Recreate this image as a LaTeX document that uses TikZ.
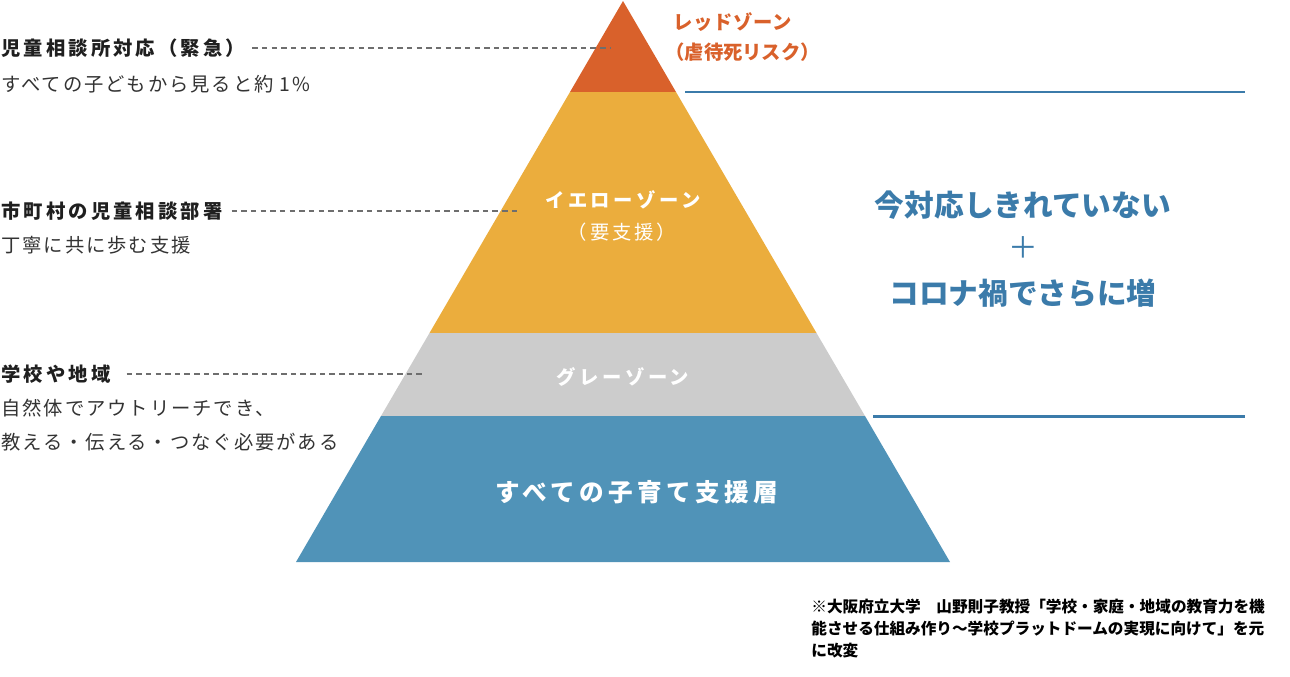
\documentclass[tikz,border=0pt]{standalone}
\usepackage{fontspec}
\setmainfont{Noto Sans CJK JP}
\usepackage{tikz}
\usetikzlibrary{positioning}

\definecolor{redzone}{HTML}{D9612B}
\definecolor{yellowzone}{HTML}{EBAD3D}
\definecolor{grayzone}{HTML}{CCCCCC}
\definecolor{bluezone}{HTML}{5093B8}
\definecolor{ruleblue}{HTML}{3B7BAA}
\definecolor{leadergray}{HTML}{6E6E6E}

\newcommand{\headfont}{\bfseries\fontsize{11}{13}\selectfont\addfontfeature{LetterSpace=16}}
\newcommand{\subfont}{\fontsize{11}{13}\selectfont\addfontfeature{LetterSpace=10}}
\newcommand{\zonefont}{\bfseries\fontsize{11}{13}\selectfont\addfontfeature{LetterSpace=18}}

\tikzset{
  lefthead/.style={anchor=west, inner sep=0pt, font=\headfont, text=black!88},
  leftsub/.style={anchor=west, inner sep=0pt, font=\subfont, text=black!80},
  zonelabel/.style={inner sep=0pt, font=\zonefont, text=white},
  redlabel/.style={anchor=west, inner sep=0pt, text=redzone, font=\bfseries\fontsize{11}{13}\selectfont\addfontfeature{LetterSpace=4}},
  bigblue/.style={inner sep=0pt, text=ruleblue, font=\bfseries\fontsize{16.9}{20}\selectfont},
  leader/.style={dash pattern=on 3.1pt off 2.4pt, leadergray, line width=0.7pt, shorten <=4pt},
  bluerule/.style={ruleblue, line width=1.7pt},
}

\begin{document}
\begin{tikzpicture}[x=0.02cm, y=-0.02cm]
\useasboundingbox (0,0) rectangle (1290,676);

% pyramid layers
\fill[redzone] (623,1) -- (676,92) -- (570,92) -- cycle;
\fill[yellowzone] (570,92) -- (676,92) -- (816.5,333) -- (429.5,333) -- cycle;
\fill[grayzone] (429.5,333) -- (816.5,333) -- (865,416) -- (381,416) -- cycle;
\fill[bluezone] (381,416) -- (865,416) -- (950,562) -- (296,562) -- cycle;

% labels inside the pyramid
\node[zonelabel] (yellow) at (623,200) {イエローゾーン};
\node[zonelabel, font=\fontsize{11}{13}\selectfont\addfontfeature{LetterSpace=15}] (yellowsub) at (622,232) {（要支援）};
\node[zonelabel] (gray) at (623,377) {グレーゾーン};
\node[zonelabel, font=\bfseries\fontsize{14}{16}\selectfont\addfontfeature{LetterSpace=18}] (all) at (637,492) {すべての子育て支援層};

% red zone caption
\node[redlabel] (red) at (673,22) {レッドゾーン};
\node[redlabel, font=\bfseries\fontsize{11}{13}\selectfont] (redsub) at (665,52) {（虐待死リスク）};

% left side
\node[lefthead] (crisis) at (1,48) {児童相談所対応（緊急）};
\node[leftsub] (crisissub) at (1,84) {すべての子どもから見ると約 1\%};
\coordinate (crisisend) at (611,48);
\draw[leader] (crisis) -- (crisisend);

\node[lefthead] (city) at (1,211) {市町村の児童相談部署};
\node[leftsub] (citysub) at (1,245) {丁寧に共に歩む支援};
\coordinate (cityend) at (517,211);
\draw[leader, shorten <=5pt] (city) -- (cityend);

\node[lefthead] (school) at (1,374) {学校や地域};
\node[leftsub] (schoolsub) at (1,408) {自然体でアウトリーチでき、};
\node[leftsub] (schoolsub2) at (1,442) {教える・伝える・つなぐ必要がある};
\coordinate (schoolend) at (425,374);
\draw[leader, shorten <=9pt] (school) -- (schoolend);

% right side
\coordinate (topruleA) at (685,92);
\coordinate (topruleB) at (1245,92);
\coordinate (lowruleA) at (873,416);
\coordinate (lowruleB) at (1245,416);
\draw[bluerule] (topruleA) -- (topruleB);
\draw[bluerule] (lowruleA) -- (lowruleB);

\node[bigblue] (now) at (1023,205) {今対応しきれていない};
\node[bigblue, font=\fontsize{16.9}{20}\selectfont] (plus) at (1023,248) {＋};
\node[bigblue] (covid) at (1023,293) {コロナ禍でさらに増};

% source note
\node[anchor=north west, inner sep=0pt, align=left, font=\bfseries\fontsize{8.9}{12.4}\selectfont] (source) at (811,599)
  {※大阪府立大学　山野則子教授「学校・家庭・地域の教育力を機\\能させる仕組み作り〜学校プラットドームの実現に向けて」を元\\に改変};

\end{tikzpicture}
\end{document}
